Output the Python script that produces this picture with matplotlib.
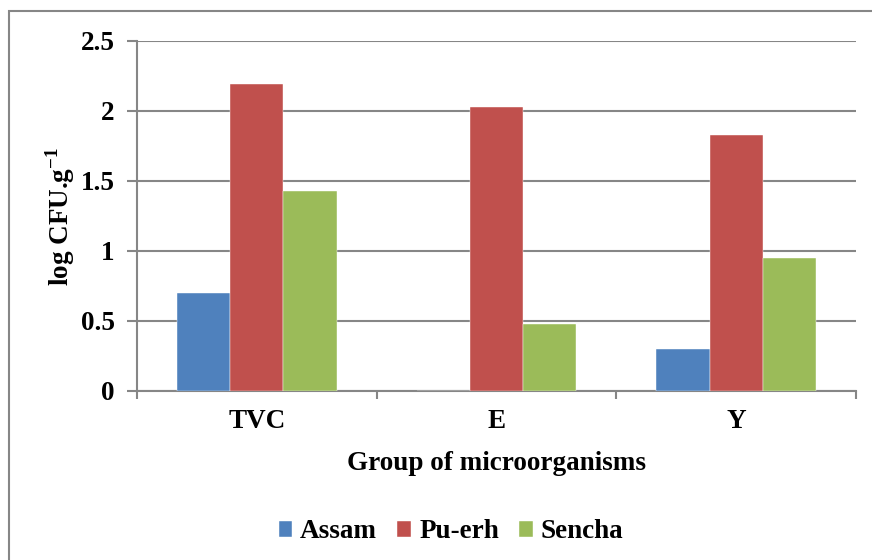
import numpy as np
import matplotlib.pyplot as plt
from matplotlib.patches import Rectangle

# log CFU per gram for each tea, by microorganism group
groups = ['TVC', 'E', 'Y']
assam = [0.70, 0.0, 0.30]
pu_erh = [2.19, 2.03, 1.83]
sencha = [1.43, 0.48, 0.95]

series = [('Assam', assam, '#4F81BD'),
          ('Pu-erh', pu_erh, '#C0504D'),
          ('Sencha', sencha, '#9BBB59')]

plt.rcParams['font.family'] = ['Liberation Serif', 'DejaVu Serif']
plt.rcParams['font.weight'] = 'bold'
plt.rcParams['mathtext.fontset'] = 'custom'
plt.rcParams['mathtext.rm'] = 'Liberation Serif:bold'
plt.rcParams['mathtext.bf'] = 'Liberation Serif:bold'

FS = 19.5
W, H = 872, 560
fig = plt.figure(figsize=(W / 100, H / 100), dpi=100)
ax = fig.add_axes([137 / W, 1 - 391 / H, (856 - 137) / W, (391 - 41) / H])

grid_col = '#868686'
x = np.arange(len(groups))
width = 2 / 9  # three bars fill 2/3 of each category slot
for i, (name, vals, col) in enumerate(series):
    ax.bar(x + (i - 1) * width, vals, width, color=col, label=name,
           edgecolor='white', linewidth=0.3, zorder=3)

ax.set_xlim(-0.5, len(groups) - 0.5)
ax.set_ylim(0, 2.5)
ax.set_yticks([0, 0.5, 1, 1.5, 2, 2.5])
ax.set_yticklabels(['0', '0.5', '1', '1.5', '2', '2.5'])
ax.yaxis.grid(True, color=grid_col, linewidth=1.5, zorder=0)
ax.set_axisbelow(True)

# category boundaries carry the x tick marks, labels sit in the middle
ax.set_xticks(np.arange(-0.5, len(groups)), minor=False)
ax.set_xticklabels([])
ax.set_xticks(x, minor=True)
ax.set_xticklabels(groups, minor=True)
ax.tick_params(axis='x', which='major', length=6, width=1.5, color=grid_col, direction='out')
ax.tick_params(axis='x', which='minor', length=0, pad=13, labelsize=FS)
ax.tick_params(axis='y', length=7, width=1.5, color=grid_col, direction='out', pad=9, labelsize=FS)

for s in ['top', 'right']:
    ax.spines[s].set_visible(False)
for s in ['left', 'bottom']:
    ax.spines[s].set_color(grid_col)
    ax.spines[s].set_linewidth(1.5)

ax.set_xlabel('Group of microorganisms', fontsize=FS, fontweight='bold')
ax.set_ylabel('log CFU.g$^{-1}$', fontsize=FS, fontweight='bold')
ax.xaxis.set_label_coords(0.5, -(463 - 391) / 350)
ax.yaxis.set_label_coords((60 - 137) / 719, 0.5)
ax.xaxis.label.set_va('center')
ax.yaxis.label.set_va('center')

handles, labels = ax.get_legend_handles_labels()
fig.legend(handles, labels, loc='center', bbox_to_anchor=(451 / W, 1 - 532 / H),
           ncol=3, frameon=False, handlelength=0.5, handleheight=0.5,
           handletextpad=0.3, columnspacing=0.75, prop={'weight': 'bold', 'size': FS})

# chart border, running off the right and bottom edges
fig.patches.append(Rectangle((9 / W, -0.1), 1.0, 1.1 - 11 / H, transform=fig.transFigure,
                             fill=False, edgecolor=grid_col, linewidth=1.5))

fig.savefig('out.png', dpi=100)
